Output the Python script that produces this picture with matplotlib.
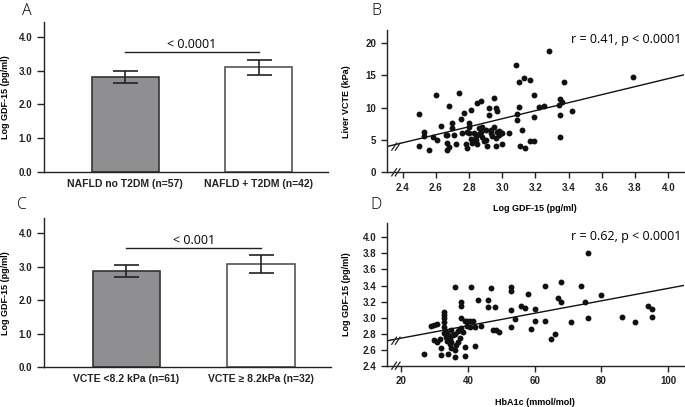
import matplotlib
matplotlib.use("Agg")
import matplotlib.pyplot as plt
import numpy as np

plt.rcParams['font.family'] = ['Liberation Sans', 'DejaVu Sans']

# bar panels (A, C)
groups_a = ['NAFLD no T2DM (n=57)', 'NAFLD + T2DM (n=42)']
means_a = [2.82, 3.10]
err_a = [0.18, 0.23]
p_a = '< 0.0001'

groups_c = ['VCTE <8.2 kPa (n=61)', 'VCTE \u2265 8.2kPa (n=32)']
means_c = [2.86, 3.08]
err_c = [0.18, 0.28]
p_c = '< 0.001'

# panel B: log GDF-15 vs liver VCTE
gdf_b = [2.50, 2.50, 2.53, 2.53, 2.56, 2.58, 2.60, 2.61, 2.63, 2.66, 2.67, 2.68, 2.67, 2.68,
         2.67, 2.70, 2.70, 2.71, 2.72, 2.74, 2.75, 2.76, 2.77, 2.78, 2.79, 2.80, 2.80, 2.80,
         2.81, 2.82, 2.81, 2.83, 2.84, 2.85, 2.85, 2.86, 2.87, 2.87, 2.88, 2.88, 2.89, 2.90,
         2.90, 2.91, 2.92, 2.92, 2.93, 2.94, 2.95, 2.95, 2.96, 2.96, 2.97, 2.96, 2.97, 2.98,
         2.99, 3.00, 3.00, 3.04, 3.08, 3.09, 3.09, 3.10, 3.10, 3.11, 3.13, 3.12, 3.14, 3.17,
         3.19, 3.19, 3.17, 3.19, 3.22, 3.25, 3.28, 3.34, 3.35, 3.35, 3.35, 3.36, 3.37, 3.42,
         3.79, 2.83, 2.86, 2.93, 2.98, 2.79, 2.84]
vcte_b = [9.0, 4.1, 6.2, 5.6, 3.5, 5.4, 12.0, 5.0, 7.1, 5.8, 5.7, 10.3, 4.5, 3.9,
          3.5, 7.6, 6.9, 5.8, 4.4, 12.3, 8.2, 6.0, 9.1, 4.3, 3.8, 7.6, 7.0, 6.0,
          5.2, 4.6, 9.6, 4.9, 5.6, 10.7, 4.4, 6.8, 6.3, 11.1, 7.0, 5.5, 4.8, 6.6,
          5.0, 4.0, 10.0, 8.9, 6.5, 5.6, 11.5, 7.0, 5.3, 9.9, 9.4, 4.0, 6.2, 5.8,
          6.0, 4.3, 6.0, 6.1, 16.6, 9.0, 8.1, 10.1, 14.0, 4.0, 14.6, 6.5, 3.7, 14.3,
          8.5, 11.9, 4.8, 4.8, 10.1, 10.2, 18.8, 10.4, 11.4, 8.9, 5.5, 10.9, 13.9, 9.4,
          14.7, 6.1, 5.9, 6.1, 6.4, 6.3, 5.0]
r_b = 'r = 0.41, p < 0.0001'

# panel D: HbA1c vs log GDF-15
hba1c_d = [27, 29, 29.8, 30.8, 30, 30.7, 31.8, 32, 32, 32.8, 32.8, 32.8, 32.8, 32.8, 32.8,
           33.5, 33.8, 34.5, 34.8, 34, 35, 34.5, 35.5, 36, 36, 36, 37, 37.3, 37.5, 38, 38,
           38, 37.8, 38.5, 39, 39, 39, 39.8, 40.5, 41.5, 41, 39.7, 40.5, 42, 42, 43, 44,
           46, 46, 47, 48, 47.5, 48.5, 49.2, 53, 53, 53, 53, 54, 56, 57, 58, 59, 60, 60,
           63, 63, 65, 66, 67, 68, 68, 71, 74, 75, 76, 76, 80, 86, 90, 94, 95, 95,
           33.5, 34, 35, 36.5, 37, 36]
gdf_d = [2.54, 2.89, 2.91, 2.92, 2.72, 2.70, 2.73, 2.62, 2.53, 3.07, 3.03, 2.99, 2.95, 2.88, 2.81,
         2.76, 2.71, 2.67, 2.62, 2.55, 2.85, 2.73, 2.78, 3.38, 2.60, 2.51, 2.83, 2.85, 2.74, 3.20, 3.15,
         3.00, 2.87, 2.82, 2.63, 2.52, 2.96, 2.96, 2.96, 2.96, 3.38, 2.90, 2.88, 2.88, 2.64, 3.22, 2.90,
         3.22, 3.13, 3.37, 3.13, 2.84, 2.85, 2.82, 3.38, 3.33, 3.10, 2.88, 2.98, 3.15, 3.12, 3.30, 2.86, 3.11, 2.96,
         3.39, 2.96, 2.73, 2.79, 3.25, 3.19, 3.45, 2.94, 3.40, 3.19, 3.81, 3.00, 3.28, 3.01, 2.95, 3.15, 3.11, 3.01,
         2.82, 2.78, 2.69, 2.66, 2.70, 2.80]
r_d = 'r = 0.62, p < 0.0001'

W, H = 685, 407
fig = plt.figure(figsize=(6.85, 4.07), dpi=100)


def px_axes(left, right, top, bottom):
    return fig.add_axes([left / W, 1 - bottom / H, (right - left) / W, (bottom - top) / H])


def style(ax):
    ax.spines['top'].set_visible(False)
    ax.spines['right'].set_visible(False)
    for s in ['left', 'bottom']:
        ax.spines[s].set_linewidth(1.0)
        ax.spines[s].set_color('#222222')
    ax.tick_params(direction='out', length=4, width=1.0, colors='#222222',
                   labelsize=7)
    for lab in ax.get_xticklabels() + ax.get_yticklabels():
        lab.set_fontweight('bold')


def bar_panel(ax, groups, means, errs, ptext):
    x = np.arange(len(groups))
    ax.bar(x, means, 0.5, color=['#8f8f91', 'white'], edgecolor=['#333333', '#555555'],
           linewidth=1.2, zorder=2)
    ax.errorbar(x, means, yerr=errs, fmt='none', ecolor='#222222', elinewidth=1.2,
                capsize=9, capthick=1.2, zorder=3)
    top = 3.55
    ax.plot([0, 1], [top, top], color='#222222', lw=1.0)
    ax.text(0.5, top + 0.05, ptext, ha='center', va='bottom', fontsize=9,
            family=['Open Sans', 'DejaVu Sans'])
    ax.set_xlim(-0.61, 1.52)
    ax.set_ylim(0, 4.45)
    ax.set_yticks([0, 1, 2, 3, 4])
    ax.set_yticklabels(['0.0', '1.0', '2.0', '3.0', '4.0'])
    ax.set_xticks(x)
    ax.set_xticklabels(groups)
    style(ax)
    ax.tick_params(axis='x', length=0, pad=5, labelsize=7.5)
    ax.tick_params(axis='y', length=5)
    ax.set_ylabel('Log GDF-15 (pg/ml)', fontsize=6.5, fontweight='bold')
    ax.yaxis.set_label_coords(-0.12, 0.5)


def breaks(ax, ys):
    # little // marks on the axes
    for (xa, ya) in ys:
        for dx in (0, 0.012):
            ax.plot([xa - 0.008 + dx, xa + 0.008 + dx], [ya - 0.025, ya + 0.025],
                    transform=ax.transAxes, color='#222222', lw=0.9, clip_on=False)


# A
axA = px_axes(44, 328, 22, 171.7)
bar_panel(axA, groups_a, means_a, err_a, p_a)

# C
axC = px_axes(44, 331, 218, 367.3)
bar_panel(axC, groups_c, means_c, err_c, p_c)

# B
axB = px_axes(386.7, 684, 30, 172.3)
axB.scatter(gdf_b, vcte_b, s=18, color='#111111', zorder=3, linewidths=0)
xl = np.array([2.304, 4.095])
axB.plot(xl, 3.97 + 6.2 * (xl - 2.304), color='#111111', lw=1.0)
axB.set_xlim(2.304, 4.095)
axB.set_ylim(0, 22)
axB.set_xticks(np.arange(2.4, 4.01, 0.2))
axB.set_xticklabels(['%.1f' % v for v in np.arange(2.4, 4.01, 0.2)])
axB.set_yticks([0, 5, 10, 15, 20])
style(axB)
axB.text(0.99, 0.93, r_b, transform=axB.transAxes, ha='right', va='center', fontsize=9,
         family=['Open Sans', 'DejaVu Sans'])
axB.set_xlabel('Log GDF-15 (pg/ml)', fontsize=6.5, fontweight='bold')
axB.xaxis.set_label_coords(0.5, -0.223)
axB.set_ylabel('Liver VCTE (kPa)', fontsize=6.5, fontweight='bold')
axB.yaxis.set_label_coords(-0.12, 0.5)
breaks(axB, [(0.025, 0.18), (0.025, 0.0)])

# D
axD = px_axes(386.7, 684, 223, 365.7)
axD.scatter(hba1c_d, gdf_d, s=18, color='#111111', zorder=3, linewidths=0)
xl = np.array([15.7, 104.7])
axD.plot(xl, 2.71 + 0.00777 * (xl - 15.7), color='#111111', lw=1.0)
axD.set_xlim(15.7, 104.7)
axD.set_ylim(2.4, 4.18)
axD.set_xticks([20, 40, 60, 80, 100])
axD.set_yticks(np.arange(2.4, 4.01, 0.2))
axD.set_yticklabels(['%.1f' % v for v in np.arange(2.4, 4.01, 0.2)])
style(axD)
axD.text(0.99, 0.904, r_d, transform=axD.transAxes, ha='right', va='center', fontsize=9,
         family=['Open Sans', 'DejaVu Sans'])
axD.set_xlabel('HbA1c (mmol/mol)', fontsize=6.5, fontweight='bold')
axD.xaxis.set_label_coords(0.5, -0.223)
axD.set_ylabel('Log GDF-15 (pg/ml)', fontsize=6.5, fontweight='bold')
axD.yaxis.set_label_coords(-0.12, 0.5)
breaks(axD, [(0.025, 0.175), (0.025, 0.0)])

# panel letters
for letter, (lx, ly) in zip('ABCD', [(27, 11), (376, 11), (22, 205), (376, 205)]):
    fig.text(lx / W, 1 - ly / H, letter, ha='center', va='center', fontsize=11.5,
             family=['Open Sans', 'DejaVu Sans'], fontweight='light')

fig.savefig('out.png', dpi=100)
